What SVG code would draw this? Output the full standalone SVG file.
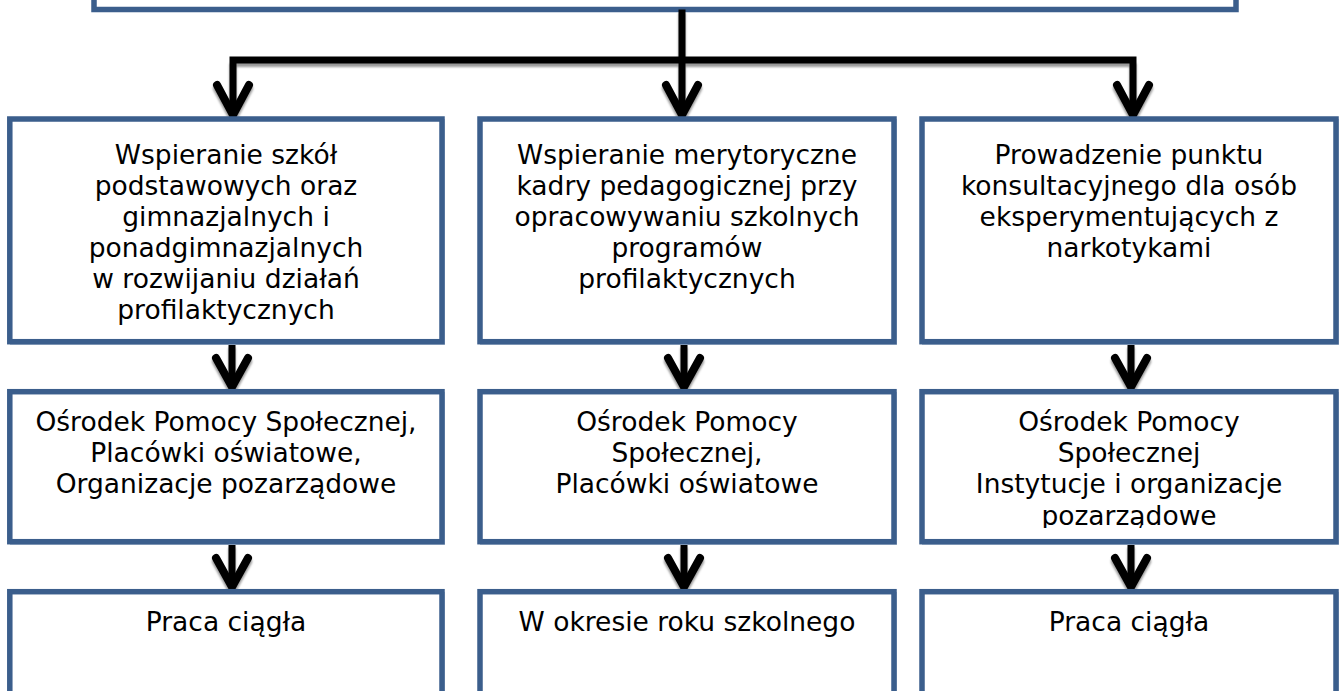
<svg xmlns="http://www.w3.org/2000/svg" width="1344" height="691" viewBox="0 0 1344 691">
<style>
.box{fill:#fff;stroke:#3b5e8c;stroke-width:5.5}
.sh{fill:none;stroke:#b3c1d4;stroke-width:2}
.t{font-family:"DejaVu Sans","Verdana",sans-serif;font-size:26.5px;fill:#000;text-anchor:middle}
.ln{fill:none;stroke:#000;stroke-width:7;stroke-linejoin:miter}
.ah{fill:none;stroke:#000;stroke-width:8;stroke-linecap:round;stroke-linejoin:miter}
.lns{fill:none;stroke:#9a9a9a;stroke-width:7}
.ahs{fill:none;stroke:#9a9a9a;stroke-width:8;stroke-linecap:round}
</style>
<defs>
<filter id="bl" x="-20%" y="-20%" width="140%" height="140%"><feGaussianBlur stdDeviation="0.8"/></filter>
<clipPath id="c6"><rect x="925" y="394" width="408" height="134"/></clipPath>
</defs>
<rect width="1344" height="691" fill="#fff"/>

<g id="top">
<rect class="box" x="94" y="-60" width="1142" height="69.5"/>
</g>

<g id="connectors">
<g filter="url(#bl)" transform="translate(0,3.5)">
<path class="lns" d="M233 60H1133M682 9.5V112M233 60V112M1133 60V112"/>
<path class="ahs" d="M217 85L233 115L249 85M666 85L682 115L698 85M1117 85L1133 115L1149 85"/>
<path class="lns" d="M232 344V384M684 344V384M1131 344V384M232 544V584M684 544V584M1131 544V584"/>
<path class="ahs" d="M216 358L232 387L248 358M668 358L684 387L700 358M1115 358L1131 387L1147 358M216 558L232 587L248 558M668 558L684 587L700 558M1115 558L1131 587L1147 558"/>
</g>
<path class="ln" d="M233 60H1133M682 9.5V112M233 56.5V112M1133 56.5V112"/>
<path class="ah" d="M217 85L233 115L249 85M666 85L682 115L698 85M1117 85L1133 115L1149 85"/>
<path class="ln" d="M232 344V384M684 344V384M1131 344V384M232 544V584M684 544V584M1131 544V584"/>
<path class="ah" d="M216 358L232 387L248 358M668 358L684 387L700 358M1115 358L1131 387L1147 358M216 558L232 587L248 558M668 558L684 587L700 558M1115 558L1131 587L1147 558"/>
</g>

<g id="n1">
<rect class="sh" x="11" y="120" width="433" height="224"/>
<rect class="box" x="9.8" y="119" width="432.2" height="222.7"/>
<text class="t" x="226" y="164">Wspieranie szkół</text>
<text class="t" x="226" y="195">podstawowych oraz</text>
<text class="t" x="226" y="226">gimnazjalnych i</text>
<text class="t" x="226" y="257">ponadgimnazjalnych</text>
<text class="t" x="226" y="288">w rozwijaniu działań</text>
<text class="t" x="226" y="319">profilaktycznych</text>
</g>
<g id="n2">
<rect class="sh" x="481" y="120" width="415" height="224"/>
<rect class="box" x="480" y="119" width="414" height="222.7"/>
<text class="t" x="687" y="164">Wspieranie merytoryczne</text>
<text class="t" x="687" y="195">kadry pedagogicznej przy</text>
<text class="t" x="687" y="226">opracowywaniu szkolnych</text>
<text class="t" x="687" y="257">programów</text>
<text class="t" x="687" y="288">profilaktycznych</text>
</g>
<g id="n3">
<rect class="sh" x="923" y="120" width="415" height="224"/>
<rect class="box" x="922" y="119" width="414" height="222.7"/>
<text class="t" x="1129" y="164">Prowadzenie punktu</text>
<text class="t" x="1129" y="195">konsultacyjnego dla osób</text>
<text class="t" x="1129" y="226">eksperymentujących z</text>
<text class="t" x="1129" y="257">narkotykami</text>
</g>

<g id="n4">
<rect class="sh" x="11" y="393" width="433" height="151"/>
<rect class="box" x="9.8" y="391.7" width="432.2" height="150"/>
<text class="t" x="226" y="431">Ośrodek Pomocy Społecznej,</text>
<text class="t" x="226" y="462">Placówki oświatowe,</text>
<text class="t" x="226" y="493">Organizacje pozarządowe</text>
</g>
<g id="n5">
<rect class="sh" x="481" y="393" width="415" height="151"/>
<rect class="box" x="480" y="391.7" width="414" height="150"/>
<text class="t" x="687" y="431">Ośrodek Pomocy</text>
<text class="t" x="687" y="462">Społecznej,</text>
<text class="t" x="687" y="493">Placówki oświatowe</text>
</g>
<g id="n6">
<rect class="sh" x="923" y="393" width="415" height="151"/>
<rect class="box" x="922" y="391.7" width="414" height="150"/>
<g clip-path="url(#c6)">
<text class="t" x="1129" y="431">Ośrodek Pomocy</text>
<text class="t" x="1129" y="462">Społecznej</text>
<text class="t" x="1129" y="493">Instytucje i organizacje</text>
<text class="t" x="1129" y="525">pozarządowe</text>
</g>
</g>

<g id="n7">
<rect class="sh" x="11" y="593" width="433" height="200"/>
<rect class="box" x="9.8" y="591.7" width="432.2" height="200"/>
<text class="t" x="226" y="631">Praca ciągła</text>
</g>
<g id="n8">
<rect class="sh" x="481" y="593" width="415" height="200"/>
<rect class="box" x="480" y="591.7" width="414" height="200"/>
<text class="t" x="687" y="631">W okresie roku szkolnego</text>
</g>
<g id="n9">
<rect class="sh" x="923" y="593" width="415" height="200"/>
<rect class="box" x="922" y="591.7" width="414" height="200"/>
<text class="t" x="1129" y="631">Praca ciągła</text>
</g>
</svg>
